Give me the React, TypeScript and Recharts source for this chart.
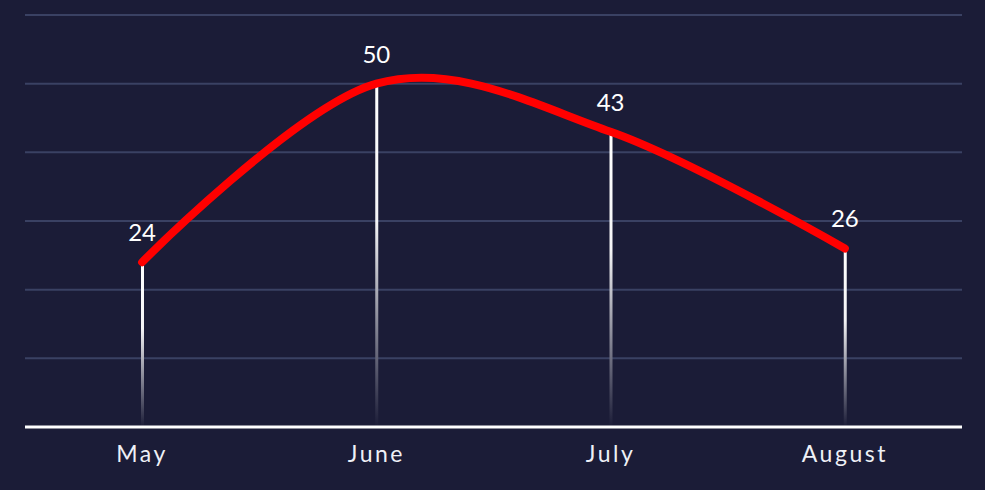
import React from "react";
import { ComposedChart, Bar, Line, XAxis, YAxis, CartesianGrid, LabelList } from "recharts";

const months = ["May", "June", "July", "August"];
const values = [24, 50, 43, 26];
const yTicks = [0, 10, 20, 30, 40, 50, 60];

const data = months.map((m, i) => ({ month: m, value: values[i] }));

// Cardinal (Catmull-Rom style, tension 0) curve factory, d3-compatible interface
const cardinalCurve: any = (context: any) => {
  const k = 1 / 6;
  let pts: number[][] = [];
  return {
    areaStart() {},
    areaEnd() {},
    lineStart() {
      pts = [];
    },
    point(x: number, y: number) {
      pts.push([+x, +y]);
    },
    lineEnd() {
      const n = pts.length;
      if (!n) return;
      context.moveTo(pts[0][0], pts[0][1]);
      if (n === 1) return;
      if (n === 2) {
        context.lineTo(pts[1][0], pts[1][1]);
        return;
      }
      for (let i = 0; i < n - 1; i++) {
        const p1 = pts[i];
        const p2 = pts[i + 1];
        const p0 = i > 0 ? pts[i - 1] : null;
        const p3 = i + 2 < n ? pts[i + 2] : null;
        const c1 = p0 ? [p1[0] + k * (p2[0] - p0[0]), p1[1] + k * (p2[1] - p0[1])] : [p1[0], p1[1]];
        const c2 = p3 ? [p2[0] - k * (p3[0] - p1[0]), p2[1] - k * (p3[1] - p1[1])] : [p2[0], p2[1]];
        context.bezierCurveTo(c1[0], c1[1], c2[0], c2[1], p2[0], p2[1]);
      }
    },
  };
};

export default function App() {
  return (
    <div style={{ position: "absolute", left: 0, top: 0, width: 985, height: 490, background: "#1b1c37" }}>
      <ComposedChart
        width={985}
        height={490}
        data={data}
        margin={{ top: 15, right: 23, left: 25, bottom: 0 }}
      >
        <defs>
          <linearGradient id="barGrad" x1="0" y1="0" x2="0" y2="1">
            <stop offset="0%" stopColor="#ffffff" stopOpacity={1} />
            <stop offset="40%" stopColor="#f4f4f6" stopOpacity={1} />
            <stop offset="100%" stopColor="#1b1c37" stopOpacity={1} />
          </linearGradient>
        </defs>
        <CartesianGrid vertical={false} stroke="#3a4163" strokeWidth={2} />
        <YAxis hide domain={[0, 60]} ticks={yTicks} />
        <XAxis
          dataKey="month"
          height={63}
          axisLine={{ stroke: "#ffffff", strokeWidth: 3 }}
          tickLine={false}
          tickMargin={13}
          tick={{ fill: "#eef0f6", fontSize: 23, fontFamily: "Lato", letterSpacing: 2.5 }}
        />
        <Bar dataKey="value" barSize={3} fill="url(#barGrad)" isAnimationActive={false} />
        <Line
          type={cardinalCurve}
          dataKey="value"
          stroke="#ff0000"
          strokeWidth={8}
          strokeLinecap="round"
          dot={false}
          activeDot={false}
          isAnimationActive={false}
        >
          <LabelList
            dataKey="value"
            position="top"
            offset={21}
            fill="#ffffff"
            fontSize={24}
            fontFamily="Lato"
          />
        </Line>
      </ComposedChart>
    </div>
  );
}
